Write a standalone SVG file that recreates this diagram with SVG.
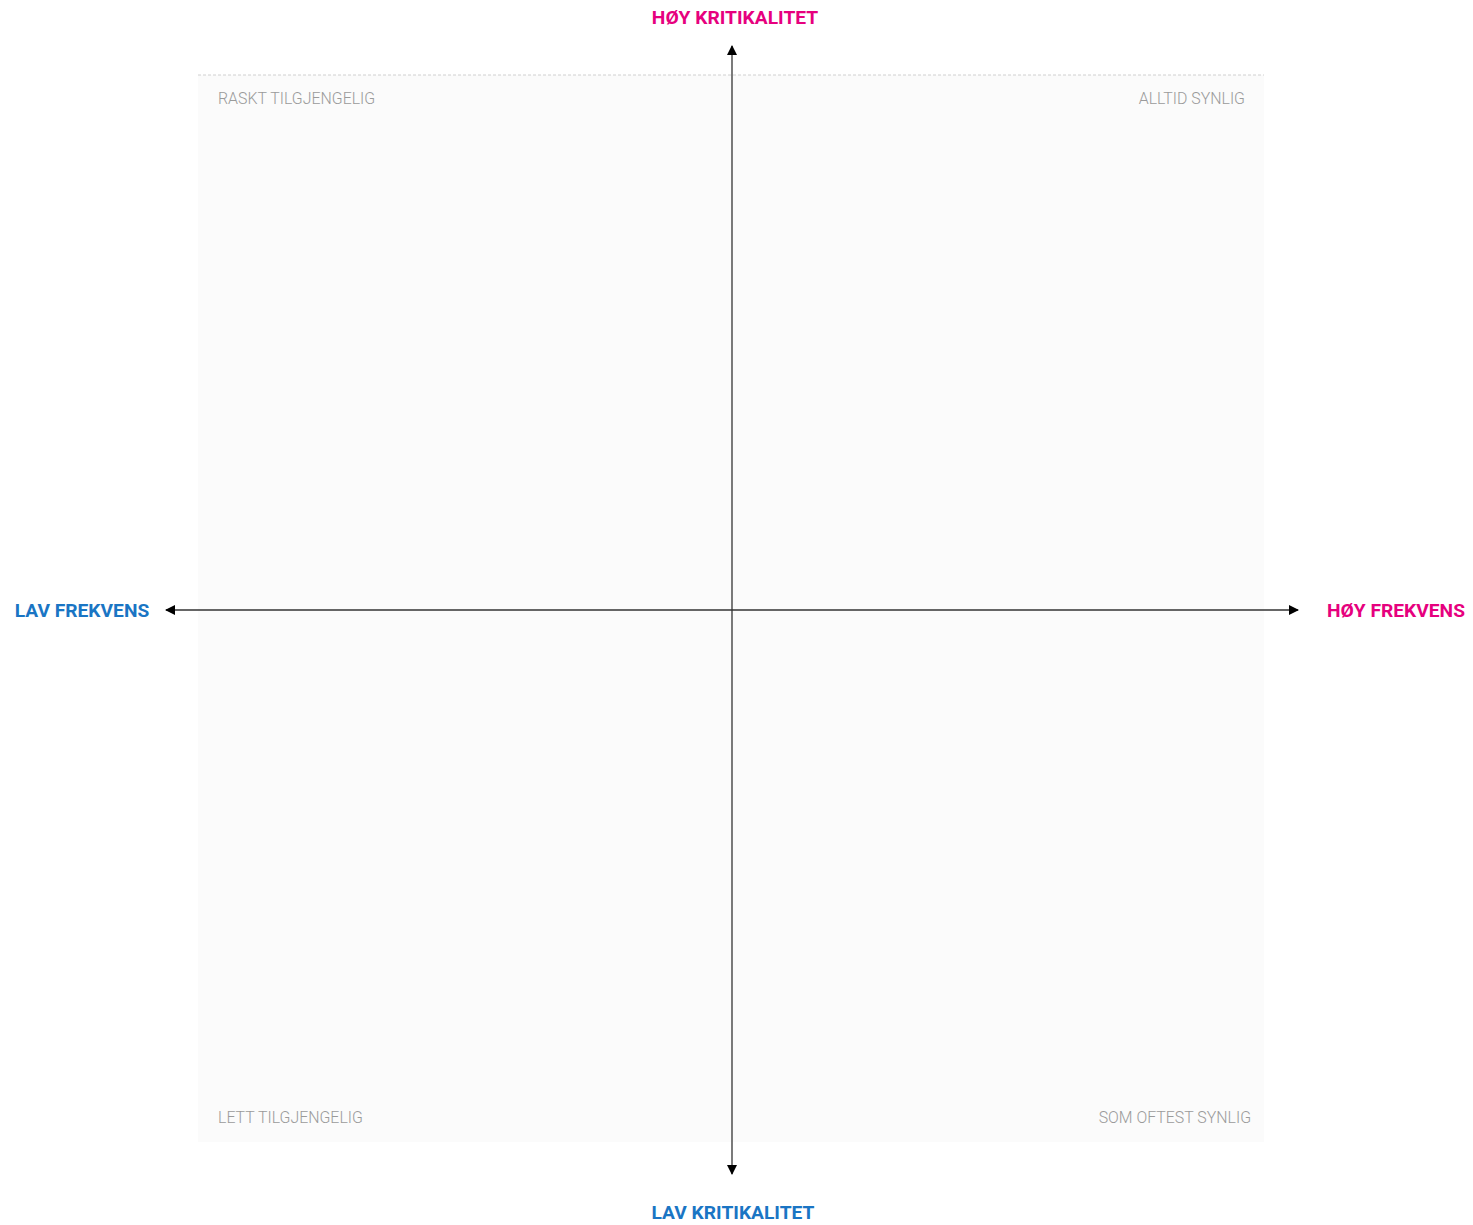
<svg xmlns="http://www.w3.org/2000/svg" width="1473" height="1225" viewBox="0 0 1473 1225">
<style>
.axis-label{font-family:Roboto,"Liberation Sans",sans-serif;font-weight:700;font-size:19.2px}
.pink{fill:#e6007e}
.blue{fill:#1a75c4}
.quad{font-family:Roboto,"Liberation Sans",sans-serif;font-weight:300;font-size:15.9px;fill:#9a9a9a}
.axis{stroke:#333;stroke-width:1.3;fill:none}
</style>
<defs>
<marker id="arrow" viewBox="0 0 10 10" refX="9" refY="5" markerWidth="10" markerHeight="10" markerUnits="userSpaceOnUse" orient="auto">
<path d="M0,0 L10,5 L0,10 z" fill="#000"/>
</marker>
</defs>
<rect width="1473" height="1225" fill="#fff"/>
<g id="field">
<rect x="198" y="75" width="1066" height="1067" fill="#fbfbfb"/>
<line x1="198" y1="75" x2="1264" y2="75" stroke="#d0d0d0" stroke-width="1" stroke-dasharray="3,2"/>
</g>
<g id="connectors">
<line class="axis" x1="732" y1="1142" x2="732" y2="46" marker-end="url(#arrow)"/>
<line class="axis" x1="732" y1="1142" x2="732" y2="1174" marker-end="url(#arrow)"/>
<line class="axis" x1="732" y1="610" x2="1298" y2="610" marker-end="url(#arrow)"/>
<line class="axis" x1="732" y1="610" x2="166" y2="610" marker-end="url(#arrow)"/>
</g>
<g id="top-label"><text class="axis-label pink" x="735" y="24" text-anchor="middle">HØY KRITIKALITET</text></g>
<g id="bottom-label"><text class="axis-label blue" x="733" y="1219" text-anchor="middle">LAV KRITIKALITET</text></g>
<g id="left-label"><text class="axis-label blue" x="82" y="617" text-anchor="middle">LAV FREKVENS</text></g>
<g id="right-label"><text class="axis-label pink" x="1396" y="617" text-anchor="middle">HØY FREKVENS</text></g>
<g id="q-top-left"><text class="quad" x="218" y="104">RASKT TILGJENGELIG</text></g>
<g id="q-top-right"><text class="quad" x="1245" y="104" text-anchor="end">ALLTID SYNLIG</text></g>
<g id="q-bottom-left"><text class="quad" x="218" y="1123">LETT TILGJENGELIG</text></g>
<g id="q-bottom-right"><text class="quad" x="1251" y="1123" text-anchor="end">SOM OFTEST SYNLIG</text></g>
</svg>
